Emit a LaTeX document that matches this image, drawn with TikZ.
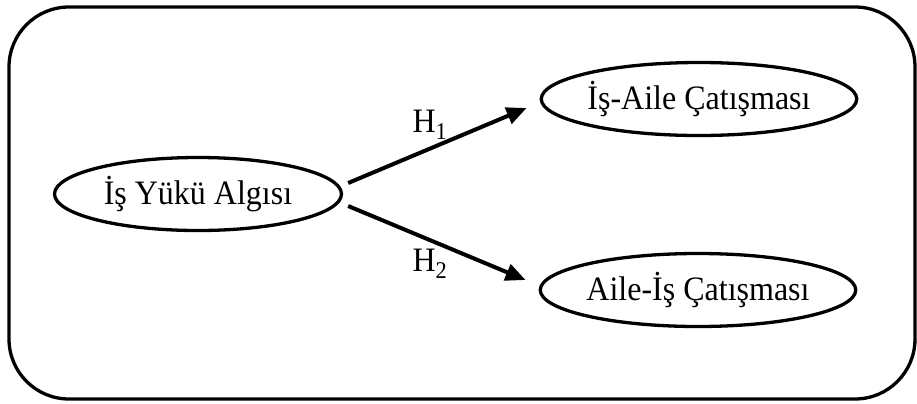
\documentclass[tikz,border=0pt]{standalone}
\usepackage{fontspec}
\setmainfont{Liberation Serif}
\usetikzlibrary{shapes.geometric,arrows.meta}

% text in the figure is set a little taller than wide
\newcommand{\talltext}[1]{\scalebox{1}[1.07]{#1}}

\tikzset{
  latent/.style={ellipse,draw,line width=3.3bp,minimum width=287bp,minimum height=73bp,inner sep=0pt,font=\fontsize{32bp}{37bp}\selectfont},
  path/.style={line width=4bp,-{Triangle[length=20bp,width=17bp]}},
  hyp/.style={font=\fontsize{32bp}{37bp}\selectfont}
}

\begin{document}
\begin{tikzpicture}[x=1bp,y=-1bp]
\useasboundingbox (0,0) rectangle (917,403);
% Frame
\draw[line width=3.3bp,rounded corners=60bp] (9,7) rectangle (915,399);

% Constructs
\node[latent] (yuk) at (198,194) {\talltext{İş Yükü Algısı}};
\node[latent] (isaile) at (699,99) {\talltext{İş-Aile Çatışması}};
\node[latent] (aileis) at (698,290) {\talltext{Aile-İş Çatışması}};

% Hypotheses
\draw[path] ([shift={(5bp,11bp)}]yuk.east) -- ([shift={(-13bp,-9bp)}]isaile.west);
\draw[path] ([shift={(5bp,-12bp)}]yuk.east) -- ([shift={(-13bp,10bp)}]aileis.west);
\node[hyp] (h1) at (430,125) {\talltext{H\textsubscript{1}}};
\node[hyp] (h2) at (430,264) {\talltext{H\textsubscript{2}}};
\end{tikzpicture}
\end{document}
